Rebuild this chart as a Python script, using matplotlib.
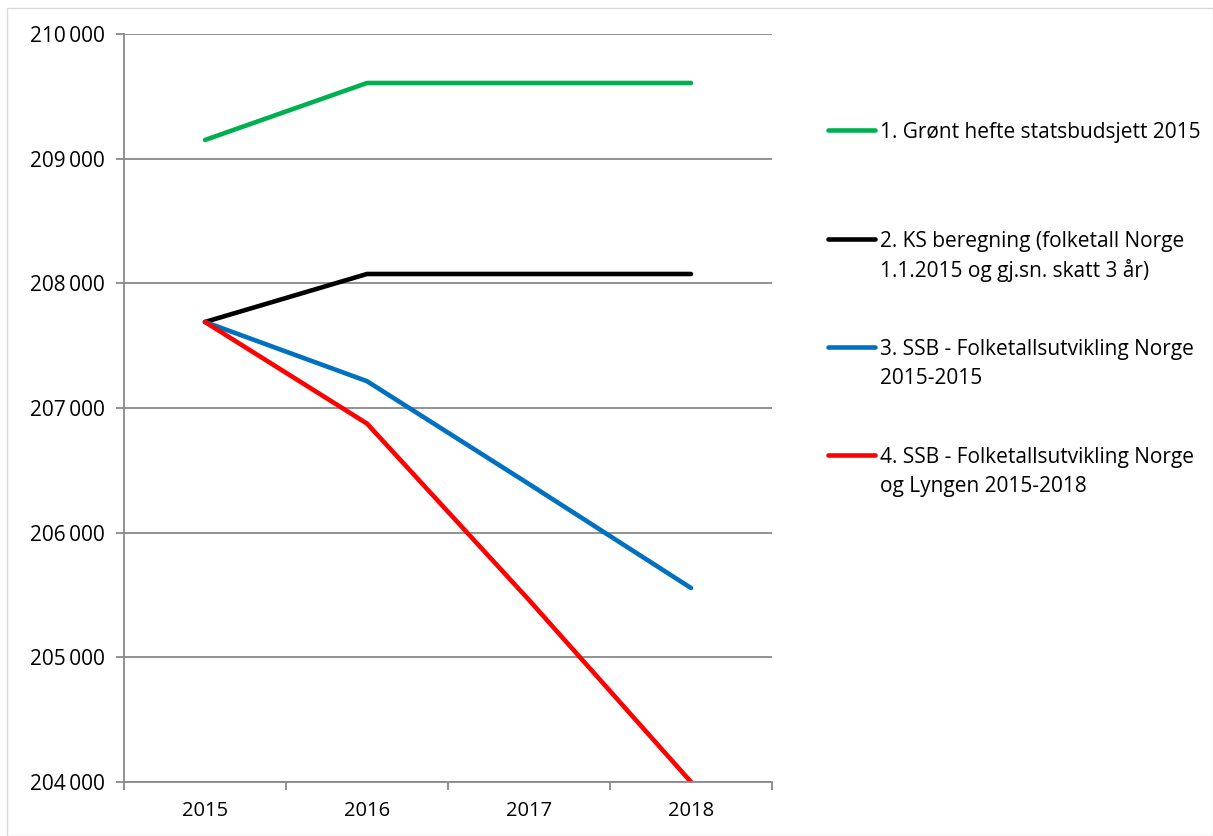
import matplotlib.pyplot as plt
from matplotlib.lines import Line2D
from matplotlib.patches import Rectangle
from matplotlib.ticker import FuncFormatter

plt.rcParams['font.family'] = ['Open Sans', 'DejaVu Sans']

years = ['2015', '2016', '2017', '2018']
gront_hefte = [209150, 209607, 209607, 209607]
ks_beregning = [207690, 208075, 208075, 208075]
ssb_norge = [207690, 207215, 206390, 205556]
ssb_lyngen = [207690, 206875, 205460, 204000]

labels = ['1. Grønt hefte statsbudsjett 2015',
          '2. KS beregning (folketall Norge\n1.1.2015 og gj.sn. skatt 3 år)',
          '3. SSB - Folketallsutvikling Norge\n2015-2015',
          '4. SSB - Folketallsutvikling Norge\nog Lyngen 2015-2018']
colors = ['#00B050', '#000000', '#0070C0', '#FF0000']
series = [gront_hefte, ks_beregning, ssb_norge, ssb_lyngen]

fig = plt.figure(figsize=(12.13, 8.36), dpi=100)
ax = fig.add_axes([124/1213, 1 - 782/836, (772-124)/1213, (782-34)/836])

x = list(range(len(years)))
for vals, c in zip(series, colors):
    ax.plot(x, vals, color=c, lw=3.3, solid_capstyle='round')

grid_c = '#898989'
ax.set_ylim(204000, 210000)
ax.set_xlim(-0.5, len(years) - 0.5)
ax.set_yticks(range(204000, 210001, 1000))
ax.yaxis.set_major_formatter(FuncFormatter(lambda v, p: f'{int(v):,}'.replace(',', '\u2009')))
ax.grid(axis='y', color=grid_c, lw=1.3)
ax.set_axisbelow(True)

ax.set_xticks([i - 0.5 for i in range(len(years) + 1)])
ax.set_xticklabels([])
ax.set_xticks(x, minor=True)
ax.set_xticklabels(years, minor=True)
ax.tick_params(axis='x', which='minor', length=0, pad=14, labelsize=14.5)
ax.tick_params(axis='x', which='major', length=6, color=grid_c, width=1.3)
ax.tick_params(axis='y', length=6, color=grid_c, width=1.3, labelsize=15, pad=8)

for s in ['top', 'right']:
    ax.spines[s].set_visible(False)
for s in ['left', 'bottom']:
    ax.spines[s].set_color(grid_c)
    ax.spines[s].set_linewidth(1.3)

# legend drawn by hand so the line sits on the first text row
leg_y = [130, 239, 347, 455]
for lab, c, yy in zip(labels, colors, leg_y):
    fy = 1 - yy / 836
    fig.add_artist(Line2D([828/1213, 875/1213], [fy, fy], color=c, lw=3.3,
                          solid_capstyle='round'))
    for k, row in enumerate(lab.split('\n')):
        fig.text(880/1213, 1 - (yy + 29 * k) / 836, row, ha='left',
                 va='center_baseline', fontsize=15)

fig.add_artist(Rectangle((7/1213, 0), 1 - 7/1213, 1 - 8/836, transform=fig.transFigure,
                         fill=False, edgecolor='#d9d9d9', lw=1))

fig.savefig('out.png', dpi=100)
